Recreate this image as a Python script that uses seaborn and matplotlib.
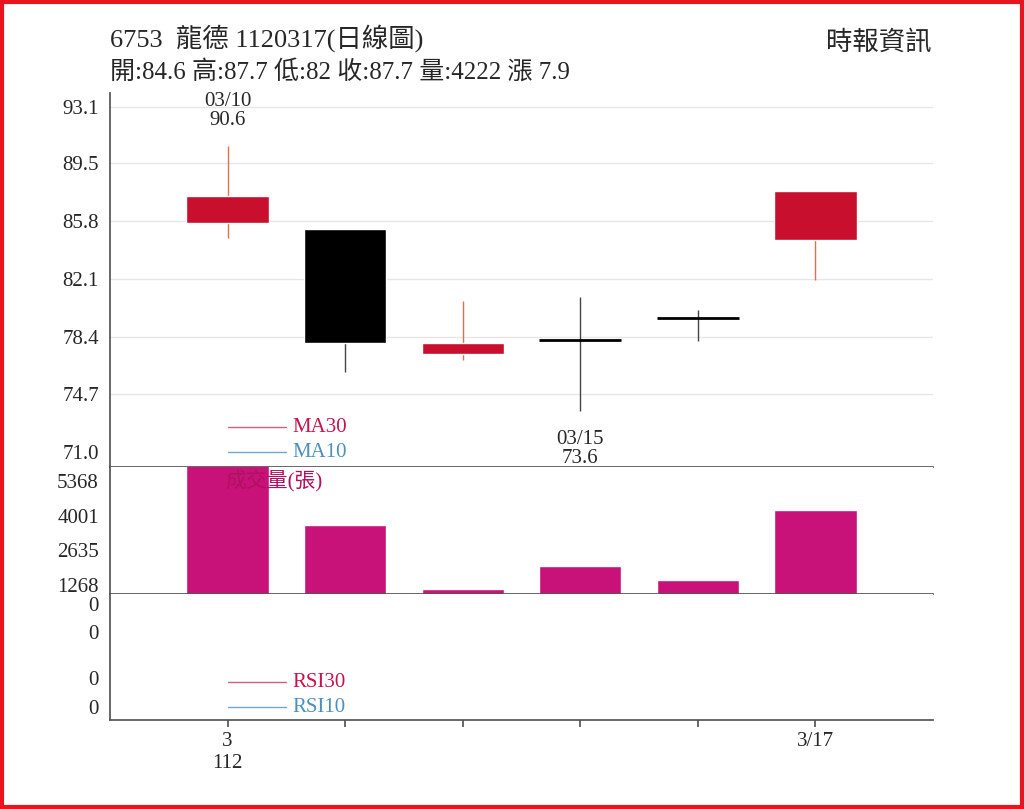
import matplotlib
matplotlib.use("Agg")
import matplotlib.pyplot as plt
import seaborn as sns
import pandas as pd
from matplotlib.patches import Rectangle

sns.set_theme(style="white")
plt.rcParams['font.family'] = ['Liberation Serif', 'Noto Sans CJK TC']

dates = ["03/10", "03/13", "03/14", "03/15", "03/16", "03/17"]
opens = [85.7, 85.3, 77.3, 78.2, 79.6, 84.6]
closes = [87.4, 78.0, 78.0, 78.2, 79.6, 87.7]
highs = [90.6, 85.3, 80.7, 80.9, 80.1, 87.7]
lows = [84.7, 76.1, 76.9, 73.6, 78.1, 82.0]
volumes = [6000, 3633, 1110, 2017, 1465, 4222]
price_ticks = [71.0, 74.7, 78.4, 82.1, 85.8, 89.5, 93.1]
vol_ticks = [1268, 2635, 4001, 5368]

W, H = 1024, 809
fig = plt.figure(figsize=(W/100, H/100), dpi=100)
def ax_at(x0, y0, x1, y1):
    return fig.add_axes([x0/W, 1-y1/H, (x1-x0)/W, (y1-y0)/H])

# red border
fig.patches.append(Rectangle((0.002, 0.002), 0.996, 0.996, transform=fig.transFigure,
                             fill=False, edgecolor='#e8141e', lw=3))

RED = '#c8102e'
MAG = '#c8127a'
xs = list(range(6))

ax1 = ax_at(110, 93, 933, 467)
ax2 = ax_at(110, 467, 933, 594)
ax3 = ax_at(110, 594, 933, 720)

for a in (ax1, ax2, ax3):
    a.set_xlim(-1.0, 6.0)
    for s in ['top', 'right']:
        a.spines[s].set_visible(False)
    for s in ['left', 'bottom']:
        a.spines[s].set_color('#555555')
    a.tick_params(axis='x', bottom=False, labelbottom=False)
    a.tick_params(axis='y', left=False, labelsize=15, pad=2)

# price panel
ax1.set_ylim(70.04, 94.0)
ax1.set_yticks(price_ticks)
ax1.set_yticklabels([f"{v:.1f}" for v in price_ticks])
for v in price_ticks[1:]:
    ax1.axhline(v, color='#e6e6e6', lw=1, zorder=0)
for x, o, c, h, l in zip(xs, opens, closes, highs, lows):
    up = c > o
    col = RED if up else ('black')
    wick = '#e07050' if up else '#444444'
    ax1.vlines(x, l, h, color=wick, lw=1, zorder=1)
    if abs(c - o) < 0.05:
        ax1.hlines(o, x-0.35, x+0.35, color='black', lw=2, zorder=2)
    else:
        ax1.bar(x, abs(c-o), bottom=min(o, c), width=0.7, color=col, zorder=2)
ax1.text(0, 91.6, "03/10\n90.6", ha='center', va='bottom', fontsize=15, linespacing=1.0)
ax1.text(3, 72.4, "03/15\n73.6", ha='center', va='top', fontsize=15, linespacing=1.0)
ax1.plot([0.0, 0.5], [72.6, 72.6], color='#d06080', lw=1)
ax1.text(0.55, 72.6, "MA30", color='#c8124a', fontsize=15, va='center')
ax1.plot([0.0, 0.5], [71.0, 71.0], color='#70a8d0', lw=1)
ax1.text(0.55, 71.0, "MA10", color='#4a90c0', fontsize=15, va='center')

# volume panel
df = pd.DataFrame({"d": dates, "v": volumes})
sns.barplot(data=df, x="d", y="v", ax=ax2, color=MAG, saturation=1, width=0.7)
ax2.set_xlim(-1.0, 6.0)
ax2.set_ylim(913, 5920)
ax2.set_xlabel(""); ax2.set_ylabel("")
ax2.set_yticks(vol_ticks)
ax2.set_yticklabels([str(v) for v in vol_ticks])
ax2.tick_params(axis='x', bottom=False, labelbottom=False)
ax2.text(-0.02, 5350, "成交量(張)", color='#b01060', fontsize=15, va='center', zorder=5)

# RSI panel
ax3.set_ylim(0, 1)
ax3.set_yticks([0.1, 0.33, 0.7, 0.92])
ax3.set_yticklabels(["0", "0", "0", "0"])
ax3.plot([0.0, 0.5], [0.3, 0.3], color='#d06080', lw=1)
ax3.text(0.55, 0.3, "RSI30", color='#c8124a', fontsize=15, va='center')
ax3.plot([0.0, 0.5], [0.1, 0.1], color='#70a8d0', lw=1)
ax3.text(0.55, 0.1, "RSI10", color='#4a90c0', fontsize=15, va='center')
ax3.set_xticks(xs)
ax3.tick_params(axis='x', bottom=True, length=5, color='#555555', labelbottom=True, labelsize=15)
ax3.set_xticklabels(["3\n112", "", "", "", "", "3/17"], linespacing=1.2)

fig.text(110/W, 1-38/H, "6753  龍德 1120317(日線圖)", fontsize=19, va='center')
fig.text(110/W, 1-72/H, "開:84.6 高:87.7 低:82 收:87.7 量:4222 漲 7.9", fontsize=18, va='center')
fig.text(932/W, 1-42/H, "時報資訊", fontsize=19, va='center', ha='right')

fig.savefig("out.png", dpi=100)
